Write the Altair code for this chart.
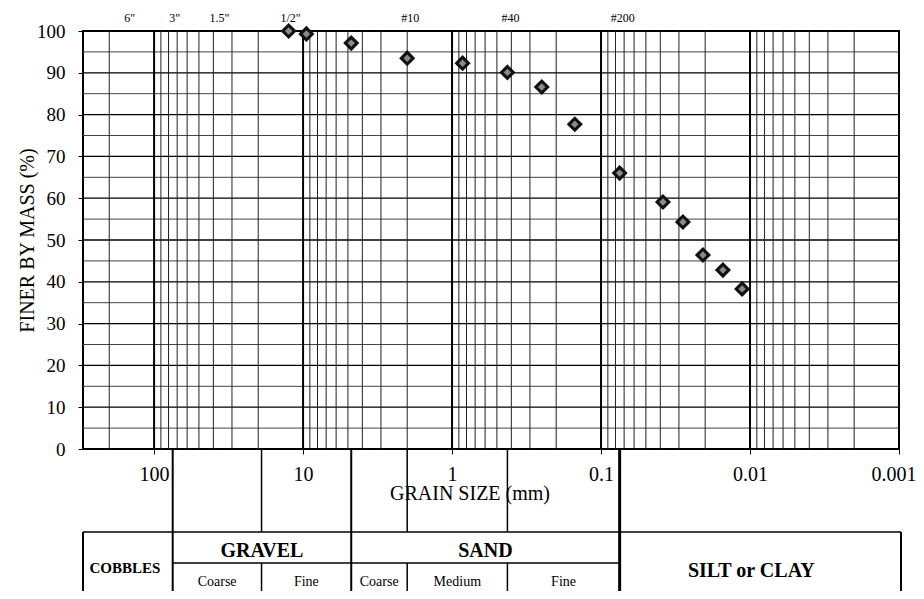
import altair as alt
import pandas as pd

# ---- data ----
grain_mm = [12.5, 9.5, 4.75, 2.0, 0.85, 0.425, 0.25, 0.15, 0.075,
            0.0384, 0.0282, 0.0207, 0.0152, 0.0113]
finer_pct = [100, 99.3, 97.1, 93.5, 92.3, 90.1, 86.6, 77.7, 66.0,
             59.1, 54.3, 46.4, 42.8, 38.3]

sieve_labels = ['6"', '3"', '1.5"', '1/2"', '#10', '#40', '#200']
sieve_mm = [152.4, 76.2, 38.1, 12.7, 2.0, 0.425, 0.075]

x_tick_values = [100, 10, 1, 0.1, 0.01, 0.001]
y_tick_values = [0, 10, 20, 30, 40, 50, 60, 70, 80, 90, 100]

decades = [0.001, 0.01, 0.1, 1, 10, 100]
minor_multipliers = [2, 3, 4, 5, 6, 7, 8, 9]
h_grid_major = [10, 20, 30, 40, 50, 60, 70, 80, 90]
h_grid_minor = [5, 15, 25, 35, 45, 55, 65, 75, 85, 95]

full_bounds_mm = [75, 4.75]
heavy_bound_mm = [0.075]
split_bounds_mm = [19, 2.0, 0.425]

main_names = ["GRAVEL", "SAND"]
main_lo = [75, 4.75]
main_hi = [4.75, 0.075]
cobble_name = ["COBBLES"]
cobble_lo = [300]
cobble_hi = [75]
silt_name = ["SILT or CLAY"]
silt_lo = [0.075]
silt_hi = [0.001]
sub_names = ["Coarse", "Fine", "Coarse", "Medium", "Fine"]
sub_lo = [75, 19, 4.75, 2.0, 0.425]
sub_hi = [19, 4.75, 2.0, 0.425, 0.075]

FONT = "Liberation Serif"
W, H = 816, 418

xscale = alt.Scale(type="log", domain=[0.001, 300], reverse=True, nice=False)
yscale = alt.Scale(domain=[0, 100], nice=False)

xaxis = alt.Axis(
    values=x_tick_values, labelExpr="toString(datum.value)", title=None,
    grid=False, domain=False, ticks=True, tickSize=5, tickColor="#000",
    labelFont=FONT, labelFontSize=20, labelColor="#000", labelPadding=10,
    labelFlush=True, labelFlushOffset=17, labelOverlap=False)
yaxis = alt.Axis(
    values=y_tick_values, title="FINER BY MASS  (%)", grid=False, domain=False,
    ticks=True, tickSize=5, tickColor="#000", labelFont=FONT, labelFontSize=19,
    labelColor="#000", labelPadding=13, titleFont=FONT, titleFontSize=20,
    titleFontWeight="normal", titleColor="#000", titleX=-46, titleY=209,
    titleAngle=270, titleBaseline="bottom", titleAlign="center")


def geo_mid(lo, hi):
    return [(a * b) ** 0.5 for a, b in zip(lo, hi)]


pts = pd.DataFrame({"mm": grain_mm, "pct": finer_pct})
vmajor = pd.DataFrame({"mm": decades})
vminor = pd.DataFrame({"mm": [d * m for d in decades for m in minor_multipliers if d * m < 300]})
hmaj = pd.DataFrame({"pct": h_grid_major})
hmin = pd.DataFrame({"pct": h_grid_minor})
sieves = pd.DataFrame({"mm": sieve_mm, "lab": sieve_labels})

X0 = alt.X("mm:Q", scale=xscale, axis=xaxis)
Y0 = alt.Y("pct:Q", scale=yscale, axis=yaxis)

h_minor = alt.Chart(hmin).mark_rule(color="#444", strokeWidth=1).encode(y=Y0)
h_major = alt.Chart(hmaj).mark_rule(color="#000", strokeWidth=1.3).encode(y=Y0)
v_minor = alt.Chart(vminor).mark_rule(color="#222", strokeWidth=1).encode(x=X0)
v_major = alt.Chart(vmajor).mark_rule(color="#000", strokeWidth=2).encode(x=X0)

# table below the plot
full_lines = alt.Chart(pd.DataFrame({"mm": full_bounds_mm})).mark_rule(
    color="#000", strokeWidth=2).encode(x=X0, y=alt.value(H), y2=alt.value(560))
heavy_line = alt.Chart(pd.DataFrame({"mm": heavy_bound_mm})).mark_rule(
    color="#000", strokeWidth=3).encode(x=X0, y=alt.value(H), y2=alt.value(560))
split_top = alt.Chart(pd.DataFrame({"mm": split_bounds_mm})).mark_rule(
    color="#000", strokeWidth=1.5).encode(x=X0, y=alt.value(H), y2=alt.value(501))
split_bot = alt.Chart(pd.DataFrame({"mm": split_bounds_mm})).mark_rule(
    color="#000", strokeWidth=1.5).encode(x=X0, y=alt.value(532), y2=alt.value(560))
table_top = alt.Chart(pd.DataFrame({"k": [0]})).mark_rule(
    color="#000", strokeWidth=1.5).encode(x=alt.value(0), x2=alt.value(818), y=alt.value(501))
table_mid = alt.Chart(pd.DataFrame({"mm": [75], "mm2": [0.075]})).mark_rule(
    color="#000", strokeWidth=1.5).encode(x=X0, x2="mm2:Q", y=alt.value(532))
table_left = alt.Chart(pd.DataFrame({"k": [0]})).mark_rule(
    color="#000", strokeWidth=2).encode(x=alt.value(0), y=alt.value(501), y2=alt.value(560))
table_right = alt.Chart(pd.DataFrame({"k": [0]})).mark_rule(
    color="#000", strokeWidth=2).encode(x=alt.value(818), y=alt.value(501), y2=alt.value(560))

main_txt = alt.Chart(pd.DataFrame({"mm": geo_mid(main_lo, main_hi), "t": main_names})).mark_text(
    font=FONT, fontSize=20, fontWeight="bold", baseline="alphabetic", color="#000"
).encode(x=X0, y=alt.value(526), text="t:N")
cob_txt = alt.Chart(pd.DataFrame({"mm": geo_mid(cobble_lo, cobble_hi), "t": cobble_name})).mark_text(
    font=FONT, fontSize=15, fontWeight="bold", baseline="alphabetic", color="#000", dx=-3
).encode(x=X0, y=alt.value(542), text="t:N")
silt_txt = alt.Chart(pd.DataFrame({"mm": geo_mid(silt_lo, silt_hi), "t": silt_name})).mark_text(
    font=FONT, fontSize=20, fontWeight="bold", baseline="alphabetic", color="#000", dx=-8
).encode(x=X0, y=alt.value(546), text="t:N")
sub_txt = alt.Chart(pd.DataFrame({"mm": geo_mid(sub_lo, sub_hi), "t": sub_names})).mark_text(
    font=FONT, fontSize=14, baseline="alphabetic", color="#000"
).encode(x=X0, y=alt.value(555), text="t:N")

x_title = alt.Chart(pd.DataFrame({"t": ["GRAIN SIZE (mm)"]})).mark_text(
    font=FONT, fontSize=20, baseline="alphabetic", color="#000"
).encode(x=alt.value(387), y=alt.value(469), text="t:N")

sieve_txt = alt.Chart(sieves).mark_text(
    font=FONT, fontSize=12, baseline="alphabetic", color="#000", dx=3
).encode(x=X0, y=alt.value(-9), text="lab:N")

outer = alt.Chart(pts).mark_point(
    shape="diamond", filled=True, size=260, color="#111", opacity=1
).encode(x=X0, y=Y0)
inner = alt.Chart(pts).mark_point(
    shape="diamond", filled=True, size=55, color="#8a8a8a", opacity=1
).encode(x=X0, y=Y0)

chart = alt.layer(
    h_minor, h_major, v_minor, v_major,
    full_lines, heavy_line, split_top, split_bot, table_top, table_mid,
    table_left, table_right,
    main_txt, cob_txt, silt_txt, sub_txt, x_title, sieve_txt,
    outer, inner,
).properties(
    width=W, height=H,
    autosize=alt.AutoSizeParams(type="none"),
    padding={"left": 75, "top": 23, "right": 17, "bottom": 142},
    background="white",
).configure_view(stroke="#000", strokeWidth=2)

chart.save("out.html", embed_options={"renderer": "svg", "actions": False})
